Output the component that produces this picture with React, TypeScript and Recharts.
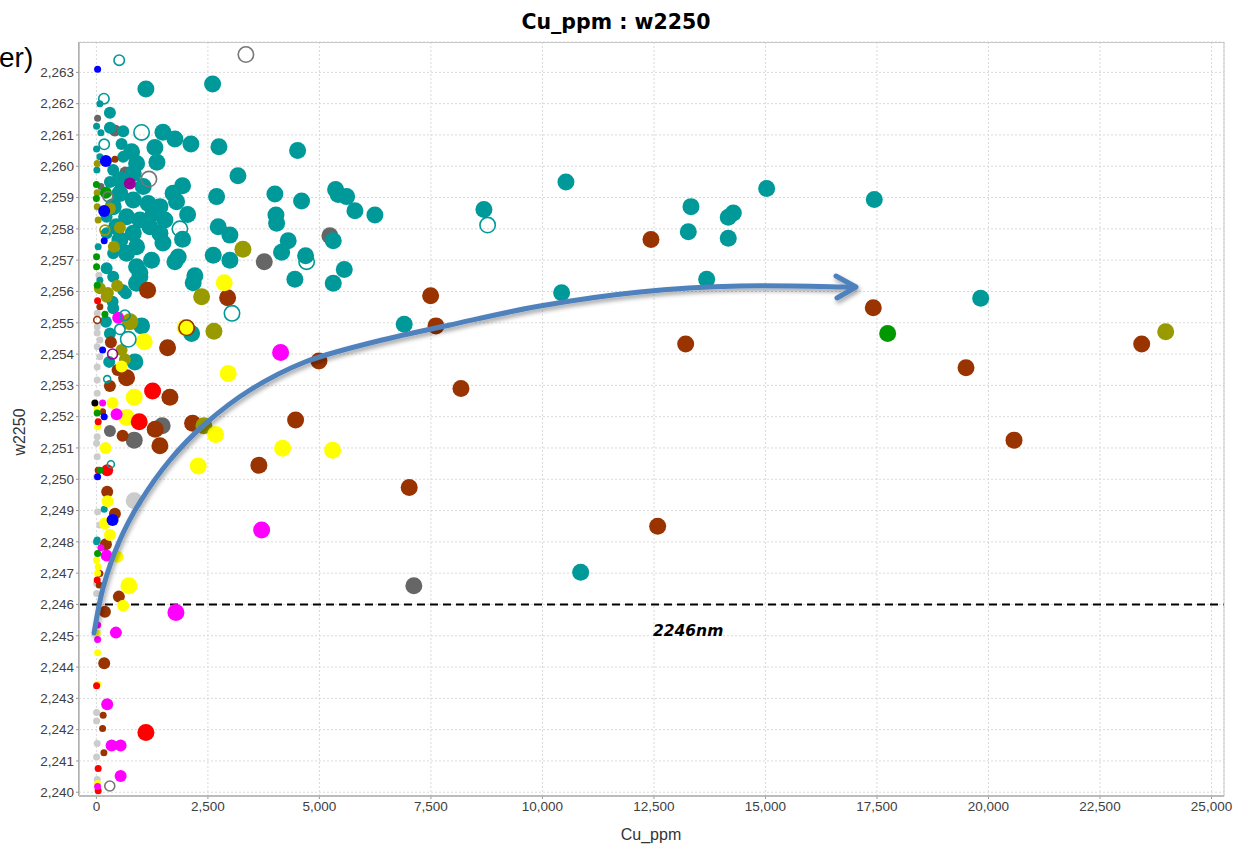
import React from "react";
import {
  CartesianGrid,
  ReferenceLine,
  Scatter,
  ScatterChart,
  XAxis,
  YAxis,
} from "recharts";

type P = [number, number];

const xTicks = [0, 2500, 5000, 7500, 10000, 12500, 15000, 17500, 20000, 22500, 25000];
const yTicks = [
  2240, 2241, 2242, 2243, 2244, 2245, 2246, 2247, 2248, 2249, 2250, 2251, 2252,
  2253, 2254, 2255, 2256, 2257, 2258, 2259, 2260, 2261, 2262, 2263,
];

const tealBig: P[] = [
  [1110, 2262.47], [2605, 2262.63], [1492, 2261.09], [1760, 2260.87], [2119, 2260.71],
  [2747, 2260.62], [1312, 2260.6], [1357, 2260.13], [4511, 2260.5], [3173, 2259.7],
  [1932, 2259.38], [1720, 2259.14], [1797, 2258.87], [2695, 2259.03], [2045, 2258.46],
  [4002, 2259.11], [4600, 2258.89], [5363, 2259.26], [5420, 2259.1], [5610, 2259.03],
  [5796, 2258.58], [6244, 2258.44], [4025, 2258.44], [4040, 2258.18], [2731, 2258.07],
  [2993, 2257.8], [1932, 2257.67], [1492, 2257.55], [1834, 2257.1], [1760, 2256.95],
  [2619, 2257.16], [2993, 2257.0], [1237, 2257.0], [4300, 2257.62], [4152, 2257.25],
  [4690, 2257.14], [5310, 2257.62], [5557, 2256.7], [4450, 2256.39], [5310, 2256.26],
  [2208, 2256.5], [2170, 2256.28], [975, 2256.6], [900, 2256.26],
  [789, 2260.46], [901, 2260.09], [826, 2259.77], [527, 2259.56], [1050, 2259.35],
  [527, 2259.13], [826, 2258.92], [1162, 2258.81], [1424, 2258.71], [377, 2258.71],
  [1274, 2258.5], [677, 2258.39], [975, 2258.28], [1536, 2258.28], [1200, 2258.07],
  [452, 2258.07], [826, 2257.86], [1424, 2257.86], [527, 2257.64], [901, 2257.43],
  [677, 2257.22], [901, 2256.79], [975, 2256.47], [1013, 2254.9], [863, 2253.75],
  [2134, 2254.66],
  [10527, 2259.5], [8688, 2258.62], [13330, 2258.71], [13270, 2257.91], [14166, 2258.37],
  [14279, 2258.51], [14166, 2257.7], [15027, 2259.29], [13682, 2256.39], [10430, 2255.96],
  [6901, 2254.95], [10857, 2247.03], [17440, 2258.94], [19825, 2255.78],
];
const tealMid: P[] = [
  [303, 2261.71], [303, 2261.23], [601, 2261.12], [565, 2260.71], [229, 2256.74],
  [363, 2255.67], [377, 2255.46], [213, 2255.03], [303, 2254.66], [287, 2253.75],
  [377, 2259.88], [601, 2260.3], [661, 2255.94], [229, 2258.39], [303, 2259.5],
  [229, 2257.86], [377, 2257.22], [377, 2256.47], [601, 2256.04],
];
const tealSmall: P[] = [
  [78, 2262.0], [4, 2261.28], [101, 2261.07], [4, 2260.55], [78, 2260.3], [40, 2257.43],
  [78, 2256.36], [175, 2249.04], [18, 2248.06], [4, 2248.0], [11, 2259.88],
];
const tealRingBig: P[] = [
  [1013, 2261.08], [1872, 2258.0], [8771, 2258.12], [4713, 2256.95], [3040, 2255.3],
  [714, 2254.47],
];
const tealRingMid: P[] = [
  [511, 2263.39], [168, 2262.16], [175, 2260.7], [639, 2255.24], [527, 2254.79],
];
const tealRingSmall: P[] = [[242, 2253.2], [325, 2250.48]];

const grayRingBig: P[] = [[3352, 2263.57], [1177, 2259.59]];
const grayRingMid: P[] = [[300, 2240.2], [260, 2259.03]];

const darkGrayBig: P[] = [
  [3763, 2256.95], [5235, 2257.78], [1475, 2251.71], [848, 2251.25], [7117, 2246.6],
];
const darkGrayMid: P[] = [[415, 2261.14], [303, 2251.54], [650, 2259.8]];
const darkGraySmall: P[] = [[27, 2261.53], [101, 2259.35]];

const lightGrayBig: P[] = [[848, 2249.31]];
const lightGraySmall: P[] = [
  [18, 2255.3], [18, 2254.87], [18, 2254.67], [78, 2254.45], [18, 2254.23], [78, 2253.91],
  [18, 2253.59], [18, 2253.17], [18, 2252.75], [18, 2251.36], [4, 2251.15], [18, 2250.72],
  [4, 2250.08], [4, 2246.67], [4, 2246.35], [4, 2242.55], [4, 2242.28], [18, 2241.56],
  [4, 2241.13], [18, 2240.41], [27, 2248.96], [78, 2248.54], [56, 2256.52],
];

const brownBig: P[] = [
  [1148, 2256.04], [2942, 2255.8], [1596, 2254.2], [677, 2253.24], [1648, 2252.62],
  [4989, 2253.78], [4466, 2251.89], [1318, 2251.6], [1424, 2251.07], [2157, 2251.79],
  [3643, 2250.45], [7013, 2249.74], [7493, 2255.86], [7612, 2254.9], [8173, 2252.9],
  [13211, 2254.32], [12583, 2248.5], [12433, 2257.66], [17417, 2255.48], [19496, 2253.56],
  [20572, 2251.25], [23435, 2254.32],
];
const brownMid: P[] = [
  [475, 2253.49], [587, 2251.39], [325, 2254.38], [415, 2248.9], [504, 2246.25],
  [191, 2245.77], [175, 2244.12], [303, 2252.98], [242, 2249.6], [213, 2247.92],
];
const brownSmall: P[] = [
  [152, 2242.46], [139, 2242.04], [168, 2241.26], [415, 2260.22], [139, 2252.16],
  [78, 2255.51], [63, 2246.62], [78, 2246.99],
];
const brownRingBig: P[] = [[2023, 2254.84]];
const brownRingSmall: P[] = [[18, 2255.09]];

const yellowBig: P[] = [
  [2866, 2256.28], [2955, 2253.38], [848, 2252.62], [1072, 2254.39], [677, 2251.97],
  [2283, 2250.42], [4175, 2250.99], [5296, 2250.93], [2672, 2251.43], [729, 2246.6],
  [1990, 2254.85],
];
const yellowMid: P[] = [
  [363, 2252.44], [206, 2251.0], [303, 2248.22], [601, 2245.96], [475, 2247.52],
  [565, 2253.6], [251, 2249.3], [191, 2248.59],
];
const yellowSmall: P[] = [
  [18, 2252.26], [27, 2251.68], [4, 2247.42], [40, 2247.2], [27, 2247.0], [18, 2245.08],
  [27, 2244.46], [27, 2243.45], [27, 2240.28],
];

const magentaBig: P[] = [[4130, 2254.05], [3704, 2248.38], [1783, 2245.74]];
const magentaMid: P[] = [
  [489, 2255.16], [453, 2252.08], [437, 2245.1], [242, 2242.81], [341, 2241.49],
  [543, 2241.49], [543, 2240.52], [229, 2247.56],
];
const magentaSmall: P[] = [
  [101, 2247.81], [27, 2245.34], [27, 2244.88], [139, 2252.44], [27, 2240.18],
];
const purpleRing: P[] = [[363, 2254.0]];
const purpleMid: P[] = [[751, 2259.45]];

const redBig: P[] = [[1260, 2252.82], [960, 2251.84], [1110, 2241.91]];
const redMid: P[] = [[242, 2250.29]];
const redSmall: P[] = [
  [40, 2240.76], [4, 2243.4], [40, 2251.84], [27, 2255.7], [40, 2240.05], [18, 2246.78],
  [40, 2250.29],
];

const oliveBig: P[] = [
  [3285, 2257.35], [2359, 2255.83], [2635, 2254.73], [2410, 2251.71], [23973, 2254.71],
  [751, 2255.03],
];
const oliveMid: P[] = [
  [303, 2258.65], [527, 2258.04], [392, 2257.43], [466, 2256.18], [78, 2256.1],
  [229, 2255.83], [565, 2254.13], [639, 2253.83], [258, 2255.95],
];
const oliveSmall: P[] = [[18, 2260.09], [18, 2259.15], [18, 2258.71], [40, 2258.28]];
const oliveRing: P[] = [[191, 2257.96]];

const greenBig: P[] = [[17740, 2254.66]];
const greenMid: P[] = [[213, 2259.15]];
const greenSmall: P[] = [
  [0, 2259.42], [0, 2258.97], [4, 2257.11], [4, 2256.79], [18, 2256.2], [191, 2255.27],
  [18, 2252.12], [27, 2247.63], [78, 2250.29],
];

const blueMid: P[] = [[213, 2260.17], [175, 2258.57], [363, 2248.7]];
const blueSmall: P[] = [
  [27, 2263.1], [175, 2257.62], [139, 2254.13], [175, 2252.0], [27, 2250.08],
];
const blackSmall: P[] = [[-34, 2252.44]];

// hand-drawn annotation arrow (screen px), smoothed through these points
const arrowPath: P[] = [
  [94, 633], [103, 588], [119, 542], [140, 502], [170, 460], [205, 424],
  [250, 390], [305, 362], [370, 343], [450, 325], [540, 306], [640, 292],
  [740, 286], [852, 287],
];

const pts = (a: P[]) => a.map(([x, y]) => ({ x, y }));

function smooth(p: P[]) {
  let d = `M${p[0][0]},${p[0][1]}`;
  for (let i = 0; i < p.length - 1; i++) {
    const p0 = p[i - 1] || p[i];
    const p1 = p[i];
    const p2 = p[i + 1];
    const p3 = p[i + 2] || p2;
    const c1x = p1[0] + (p2[0] - p0[0]) / 6;
    const c1y = p1[1] + (p2[1] - p0[1]) / 6;
    const c2x = p2[0] - (p3[0] - p1[0]) / 6;
    const c2y = p2[1] - (p3[1] - p1[1]) / 6;
    d += ` C${c1x},${c1y} ${c2x},${c2y} ${p2[0]},${p2[1]}`;
  }
  return d;
}

const dot = (r: number, fill: string) => (p: any) =>
  <circle cx={p.cx} cy={p.cy} r={r} fill={fill} />;
const ring = (r: number, stroke: string) => (p: any) =>
  <circle cx={p.cx} cy={p.cy} r={r} fill="none" stroke={stroke} strokeWidth={1.6} />;

const BIG = 8.5;
const MID = 6;
const SMALL = 3.5;

const series: { data: P[]; shape: (p: any) => React.ReactElement }[] = [
  { data: lightGraySmall, shape: dot(SMALL, "#cccccc") },
  { data: lightGrayBig, shape: dot(BIG, "#cccccc") },
  { data: darkGrayBig, shape: dot(BIG, "#666666") },
  { data: darkGrayMid, shape: dot(MID, "#666666") },
  { data: darkGraySmall, shape: dot(SMALL, "#666666") },
  { data: tealSmall, shape: dot(SMALL, "#009999") },
  { data: tealMid, shape: dot(MID, "#009999") },
  { data: tealBig, shape: dot(BIG, "#009999") },
  { data: brownBig, shape: dot(BIG, "#993300") },
  { data: brownMid, shape: dot(MID, "#993300") },
  { data: brownSmall, shape: dot(SMALL, "#993300") },
  { data: oliveBig, shape: dot(BIG, "#999900") },
  { data: oliveMid, shape: dot(MID, "#999900") },
  { data: oliveSmall, shape: dot(SMALL, "#999900") },
  { data: yellowBig, shape: dot(BIG, "#ffff00") },
  { data: yellowMid, shape: dot(MID, "#ffff00") },
  { data: yellowSmall, shape: dot(SMALL, "#ffff00") },
  { data: redBig, shape: dot(BIG, "#ff0000") },
  { data: redMid, shape: dot(MID, "#ff0000") },
  { data: redSmall, shape: dot(SMALL, "#ff0000") },
  { data: magentaBig, shape: dot(BIG, "#ff00ff") },
  { data: magentaMid, shape: dot(MID, "#ff00ff") },
  { data: magentaSmall, shape: dot(SMALL, "#ff00ff") },
  { data: greenBig, shape: dot(BIG, "#009900") },
  { data: greenMid, shape: dot(MID, "#009900") },
  { data: greenSmall, shape: dot(SMALL, "#009900") },
  { data: blueMid, shape: dot(MID, "#0000ff") },
  { data: blueSmall, shape: dot(SMALL, "#0000ff") },
  { data: purpleMid, shape: dot(MID, "#990099") },
  { data: blackSmall, shape: dot(SMALL, "#000000") },
  { data: tealRingBig, shape: ring(BIG - 0.8, "#009999") },
  { data: tealRingMid, shape: ring(MID - 0.8, "#009999") },
  { data: tealRingSmall, shape: ring(SMALL, "#009999") },
  { data: grayRingBig, shape: ring(BIG - 0.8, "#777777") },
  { data: grayRingMid, shape: ring(MID - 1, "#777777") },
  { data: brownRingBig, shape: ring(BIG - 0.8, "#993300") },
  { data: brownRingSmall, shape: ring(SMALL, "#993300") },
  { data: oliveRing, shape: ring(MID - 1, "#999900") },
  { data: purpleRing, shape: ring(MID - 1, "#990099") },
];

const fmt = (v: number) => v.toLocaleString("en-US");
const tickFont = { fill: "#404040", fontSize: 13.5, fontFamily: "Liberation Sans, Arial, sans-serif" };

const refLabel = (props: any) => {
  const vb = props.viewBox;
  return (
    <text
      x={vb.x + vb.width * 0.532}
      y={vb.y + 32}
      textAnchor="middle"
      fontFamily="DejaVu Sans, sans-serif"
      fontWeight="bold"
      fontStyle="italic"
      fontSize={15.5}
      fill="#000"
    >
      2246nm
    </text>
  );
};

export default function App() {
  return (
    <div style={{ position: "relative", width: 1233, height: 845, background: "#fff" }}>
      <style>{"body{margin:0}"}</style>
      <ScatterChart width={1233} height={845} margin={{ top: 42, right: 9, bottom: 0, left: 0 }}>
        <CartesianGrid stroke="#d9d9d9" strokeDasharray="2 2" />
        <XAxis
          type="number"
          dataKey="x"
          domain={[-390, 25280]}
          ticks={xTicks}
          tickFormatter={fmt}
          height={49}
          tick={tickFont}
          tickSize={3}
          tickLine={{ stroke: "#999" }}
          axisLine={{ stroke: "#999", strokeWidth: 1.5 }}
          allowDataOverflow
        />
        <YAxis
          type="number"
          dataKey="y"
          domain={[2239.88, 2263.97]}
          ticks={yTicks}
          tickFormatter={fmt}
          width={79}
          tick={tickFont}
          tickSize={3}
          tickLine={{ stroke: "#999" }}
          axisLine={{ stroke: "#999", strokeWidth: 1.5 }}
          allowDataOverflow
          interval={0}
        />
        <ReferenceLine
          y={2246}
          stroke="#000"
          strokeWidth={2}
          strokeDasharray="8 5"
          label={refLabel}
        />
        {series.map((s, i) => (
          <Scatter
            key={i}
            data={pts(s.data)}
            shape={s.shape}
            isAnimationActive={false}
          />
        ))}
      </ScatterChart>
      <svg
        width={1233}
        height={845}
        style={{ position: "absolute", left: 0, top: 0, pointerEvents: "none" }}
      >
        <defs>
          <filter id="shadow" x="-10%" y="-10%" width="120%" height="130%">
            <feDropShadow dx="1.5" dy="3" stdDeviation="2" floodColor="#000" floodOpacity="0.35" />
          </filter>
        </defs>
        <rect x={79.5} y={42.5} width={1144.5} height={753.5} fill="none" stroke="#c8c8c8" />
        <text x={616} y={29} textAnchor="middle" fontFamily="DejaVu Sans, sans-serif" fontWeight="bold" fontSize={20.5} fill="#000">
          Cu_ppm : w2250
        </text>
        <text x={651} y={840} textAnchor="middle" fontFamily="Liberation Sans, Arial, sans-serif" fontSize={16} fill="#333">
          Cu_ppm
        </text>
        <text
          x={0}
          y={0}
          transform="translate(25,432) rotate(-90)"
          textAnchor="middle"
          fontFamily="Liberation Sans, Arial, sans-serif"
          fontSize={16}
          fill="#333"
        >
          w2250
        </text>
        <text x={-1} y={67} fontFamily="Liberation Sans, Arial, sans-serif" fontSize={28} fill="#000">
          er)
        </text>
        <g filter="url(#shadow)" fill="none" stroke="#4f81bd" strokeWidth={5} strokeLinecap="round" strokeLinejoin="round">
          <path d={smooth(arrowPath)} />
          <polyline points="836,276 856,287 837,298" />
        </g>
      </svg>
    </div>
  );
}
